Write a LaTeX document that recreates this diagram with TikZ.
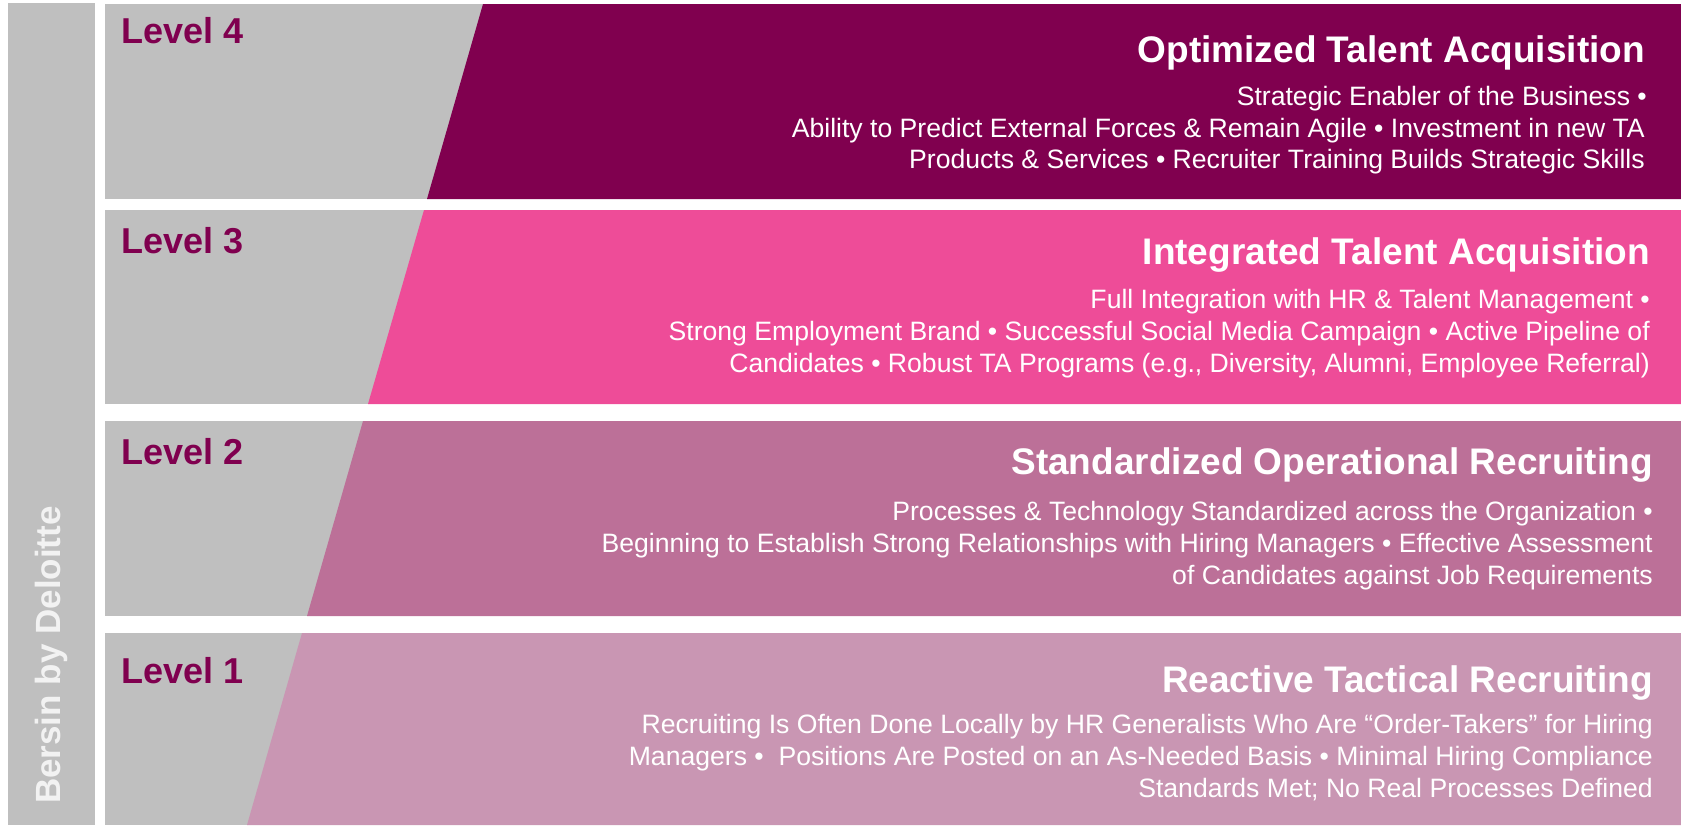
\documentclass[tikz,border=0pt]{standalone}
\usepackage{fontspec}
\setmainfont{Liberation Sans}
\usepackage{xcolor}
\usepackage{tikz}

\definecolor{levelgrey}{HTML}{BFBFBF}
\definecolor{levelplum}{HTML}{80004F}
\definecolor{optimized}{HTML}{80004F}
\definecolor{integrated}{HTML}{EE4C98}
\definecolor{standard}{HTML}{BC7098}
\definecolor{reactive}{HTML}{C996B3}
\definecolor{brandtext}{HTML}{F2F2F2}

\tikzset{
  levelname/.style={anchor=base west, inner sep=0pt, text=levelplum,
    font=\bfseries\fontsize{36}{43}\selectfont},
  bandtitle/.style={anchor=base east, inner sep=0pt, text=white,
    font=\bfseries\fontsize{37}{44}\selectfont},
  bandline/.style={anchor=base east, inner sep=0pt, text=white,
    font=\fontsize{26.6}{32}\selectfont},
}

\begin{document}
\begin{tikzpicture}[x=1pt,y=-1pt]
    \useasboundingbox (0,0) rectangle (1681,825);
    % side bar
    \fill[levelgrey] (8,3) rectangle (95,825);
    \node[rotate=90, anchor=base west, inner sep=0pt, text=brandtext,
      font=\bfseries\fontsize{35}{42}\selectfont] (brand) at (60,804) {Bersin by Deloitte};
    % grey bands
    \fill[levelgrey] (105,4) rectangle (1681,199);
    \fill[levelgrey] (105,210) rectangle (1681,404);
    \fill[levelgrey] (105,421) rectangle (1681,616);
    \fill[levelgrey] (105,633) rectangle (1681,825);
    % coloured parts
    \fill[optimized] (483,4) -- (1681,4) -- (1681,199) -- (427,199) -- cycle;
    \fill[integrated] (424,210) -- (1681,210) -- (1681,404) -- (368,404) -- cycle;
    \fill[standard] (363,421) -- (1681,421) -- (1681,616) -- (307,616) -- cycle;
    \fill[reactive] (302,633) -- (1681,633) -- (1681,825) -- (247,825) -- cycle;
    % level 4
    \node[levelname] (lvl4) at (121,43) {Level 4};
    \node[bandtitle] (ttl4) at (1645,62) {Optimized Talent Acquisition};
    \node[bandline] (txt4a) at (1647,105) {Strategic Enabler of the Business •};
    \node[bandline] (txt4b) at (1645,137) {Ability to Predict External Forces \& Remain Agile • Investment in new TA};
    \node[bandline] (txt4c) at (1645,168) {Products \& Services • Recruiter Training Builds Strategic Skills};
    % level 3
    \node[levelname] (lvl3) at (121,253) {Level 3};
    \node[bandtitle] (ttl3) at (1650,264) {Integrated Talent Acquisition};
    \node[bandline] (txt3a) at (1650,308) {Full Integration with HR \& Talent Management •};
    \node[bandline] (txt3b) at (1650,340) {Strong Employment Brand • Successful Social Media Campaign • Active Pipeline of};
    \node[bandline] (txt3c) at (1650,372) {Candidates • Robust TA Programs (e.g., Diversity, Alumni, Employee Referral)};
    % level 2
    \node[levelname] (lvl2) at (121,464) {Level 2};
    \node[bandtitle] (ttl2) at (1653,474) {Standardized Operational Recruiting};
    \node[bandline] (txt2a) at (1653,520) {Processes \& Technology Standardized across the Organization •};
    \node[bandline] (txt2b) at (1653,552) {Beginning to Establish Strong Relationships with Hiring Managers • Effective Assessment};
    \node[bandline] (txt2c) at (1653,584) {of Candidates against Job Requirements};
    % level 1
    \node[levelname] (lvl1) at (121,683) {Level 1};
    \node[bandtitle] (ttl1) at (1653,692) {Reactive Tactical Recruiting};
    \node[bandline] (txt1a) at (1653,733) {Recruiting Is Often Done Locally by HR Generalists Who Are “Order-Takers” for Hiring};
    \node[bandline] (txt1b) at (1653,765) {Managers •~ Positions Are Posted on an As-Needed Basis • Minimal Hiring Compliance};
    \node[bandline] (txt1c) at (1653,797) {Standards Met; No Real Processes Defined};
  \end{tikzpicture}
\end{document}
